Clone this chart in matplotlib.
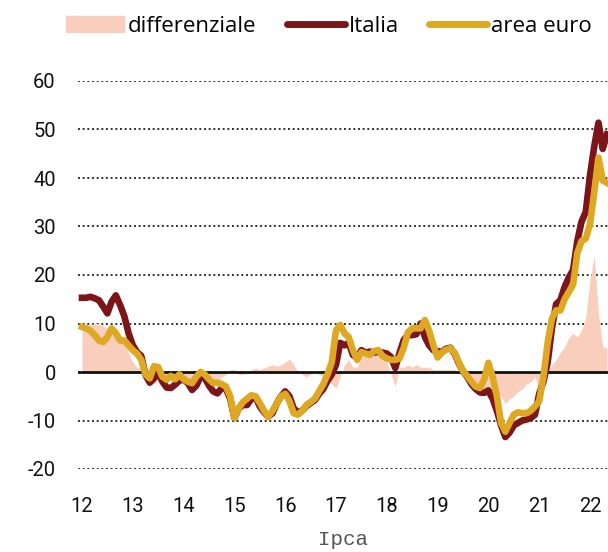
import matplotlib.pyplot as plt
from matplotlib.patches import Patch
from matplotlib.lines import Line2D
import numpy as np

plt.rcParams["axes.unicode_minus"] = False

# monthly values, Jan 2012 -> May 2022
italia = [
    15.3, 15.3, 15.5, 15.2, 14.8, 13.5, 12.1, 14.5, 15.8, 13.8, 11.5, 8.0,    # 2012
    5.5, 4.1, 3.3, -0.6, -2.2, -1.3, 0.0, -2.0, -3.2, -3.3, -2.6, -1.8,       # 2013
    -1.5, -2.3, -3.7, -2.8, -1.0, -1.2, -2.8, -4.0, -4.4, -3.3, -3.5, -5.5,   # 2014
    -9.5, -7.5, -6.8, -6.8, -5.5, -5.2, -7.1, -8.3, -9.2, -8.5, -6.5, -5.0,   # 2015
    -4.0, -5.0, -7.5, -8.3, -8.0, -7.0, -6.4, -5.8, -4.5, -3.5, -1.8, -0.5,   # 2016
    1.5, 6.0, 5.5, 6.0, 3.5, 3.0, 4.5, 4.0, 4.2, 4.0, 4.2, 4.0,               # 2017
    3.8, 3.1, 0.8, 3.9, 6.6, 7.6, 7.6, 7.8, 10.0, 7.2, 5.5, 4.5,              # 2018
    4.3, 4.1, 4.8, 5.0, 3.8, 1.8, 0.2, -1.0, -2.5, -3.5, -4.2, -4.3,          # 2019
    -3.8, -5.5, -8.0, -11.0, -13.4, -12.5, -11.0, -10.5, -10.0, -9.8, -9.5, -8.8,  # 2020
    -4.5, -2.0, 2.0, 9.0, 14.0, 14.8, 17.5, 19.5, 21.0, 27.0, 31.0, 33.0,     # 2021
    40.5, 46.5, 51.4, 46.0, 49.0,                                             # 2022
]

area_euro = [
    9.3, 9.0, 8.5, 7.6, 6.5, 6.2, 7.2, 9.0, 8.0, 6.5, 6.5, 5.5,
    4.5, 3.8, 2.5, -0.5, -1.3, 1.2, 1.0, -1.0, -1.6, -0.8, -1.5, -0.5,
    -1.5, -2.0, -2.3, -1.0, 0.0, -0.5, -1.5, -2.3, -2.2, -2.5, -3.0, -5.0,
    -9.5, -7.5, -6.2, -5.5, -4.8, -5.0, -6.4, -8.0, -9.2, -8.0, -6.5, -5.0,
    -4.5, -6.0, -8.5, -8.8, -8.0, -6.8, -6.2, -5.5, -4.0, -2.5, -0.5, 2.0,
    8.6, 9.7, 8.0, 7.2, 4.5, 2.5, 4.1, 3.8, 3.5, 4.3, 4.5, 3.3,
    2.8, 2.5, 2.5, 2.8, 5.0, 8.2, 9.0, 9.0, 9.0, 10.7, 8.5, 5.5,
    3.0, 4.0, 4.6, 4.9, 4.0, 2.0, 0.2, -0.8, -2.0, -3.0, -3.3, -1.5,
    1.9, -1.0, -5.0, -10.5, -12.3, -10.5, -8.8, -8.3, -8.5, -8.5, -8.0, -7.1,
    -6.0, -1.0, 6.0, 11.0, 12.7, 12.7, 15.0, 16.5, 18.0, 24.5, 27.0, 27.5,
    30.5, 37.0, 44.2, 39.5, 39.0,
]

differenziale = [
    9.5, 9.5, 9.8, 10.0, 10.0, 9.5, 9.0, 9.0, 8.5, 7.5, 6.0, 4.0,
    2.0, 1.0, 0.5, 0.0, -1.0, -2.5, -1.5, -0.5, -1.0, -2.0, -1.5, -1.0,
    -1.0, -1.5, -2.0, -1.5, -1.0, -0.5, -1.0, -1.5, -2.0, -1.0, -0.5, 0.5,
    0.5, -0.5, -0.5, -0.3, 0.5, 0.8, 0.5, 0.8, 1.2, 1.5, 1.2, 1.5,
    2.0, 2.7, 1.5, 0.0, -0.5, -1.0, -0.5, 0.0, -0.5, -1.0, -2.0, -2.5,
    -3.3, -1.0, 1.5, 2.5, 1.0, 1.0, 3.0, 3.5, 4.0, 3.5, 4.0, 3.5,
    2.0, -0.5, -3.0, 1.0, 1.0, 1.5, 1.0, 1.5, 1.0, 1.0, 1.0, 0.5,
    0.5, 0.5, 0.5, 0.5, 0.5, 0.0, -1.0, -2.0, -3.0, -4.0, -4.5, -4.0,
    -5.5, -4.5, -4.0, -5.0, -6.5, -5.5, -5.0, -4.0, -3.5, -2.5, -2.0, -1.0,
    -4.0, -2.5, 0.0, 1.5, 2.5, 4.0, 5.2, 7.0, 8.0, 7.2, 8.6, 11.3,
    19.0, 24.0, 12.0, 5.2, 5.0,
]

years = list(range(2012, 2023))
year_labels = [str(y)[2:] for y in years]
y_ticks = [-20, -10, 0, 10, 20, 30, 40, 50, 60]

t = 2012 + np.arange(len(italia)) / 12

col_it = "#7b1519"
col_ea = "#dfa823"
col_diff = "#f9cebd"

fig = plt.figure(figsize=(6.08, 5.52), dpi=100)
ax = fig.add_axes([78 / 608, 1 - 469 / 552, 530 / 608, 388 / 552])

ax.fill_between(t, 0, differenziale, color=col_diff, lw=0, zorder=1)

for v in y_ticks:
    if v == 0:
        ax.axhline(0, color="#111111", lw=2, zorder=2)
    else:
        ax.axhline(v, color="#333333", lw=1.4, ls=(0, (1, 1.4)), zorder=0)

ax.plot(t, italia, color=col_it, lw=4.8, solid_joinstyle="round", zorder=3)
ax.plot(t, area_euro, color=col_ea, lw=4.8, solid_joinstyle="round", zorder=4)

ax.set_xlim(2012 - 4 / 50.8, 2012 + 526 / 50.8)
ax.set_ylim(-20, 60)
ax.set_xticks(years)
ax.set_xticklabels(year_labels)
ax.set_yticks(y_ticks)
for s in ax.spines.values():
    s.set_visible(False)
ax.tick_params(length=0, labelsize=14.5, colors="#111111")
ax.tick_params(axis="y", pad=16)
ax.tick_params(axis="x", pad=20)
for lab in ax.get_xticklabels() + ax.get_yticklabels():
    lab.set_family("Roboto")

ax.set_xlabel("Ipca", family="Liberation Mono", fontsize=15, color="#555555", labelpad=10)

handles = [
    Patch(color=col_diff, label="differenziale"),
    Line2D([], [], color=col_it, lw=5, solid_capstyle="round", label="Italia"),
    Line2D([], [], color=col_ea, lw=5, solid_capstyle="round", label="area euro"),
]
fig.legend(handles=handles, loc="upper left", bbox_to_anchor=(46 / 608, 1.008), ncol=3,
           frameon=False, prop={"family": "Open Sans", "size": 16},
           handlelength=2.6, handletextpad=0.2, columnspacing=1.35)

fig.savefig("out.png", dpi=100)
